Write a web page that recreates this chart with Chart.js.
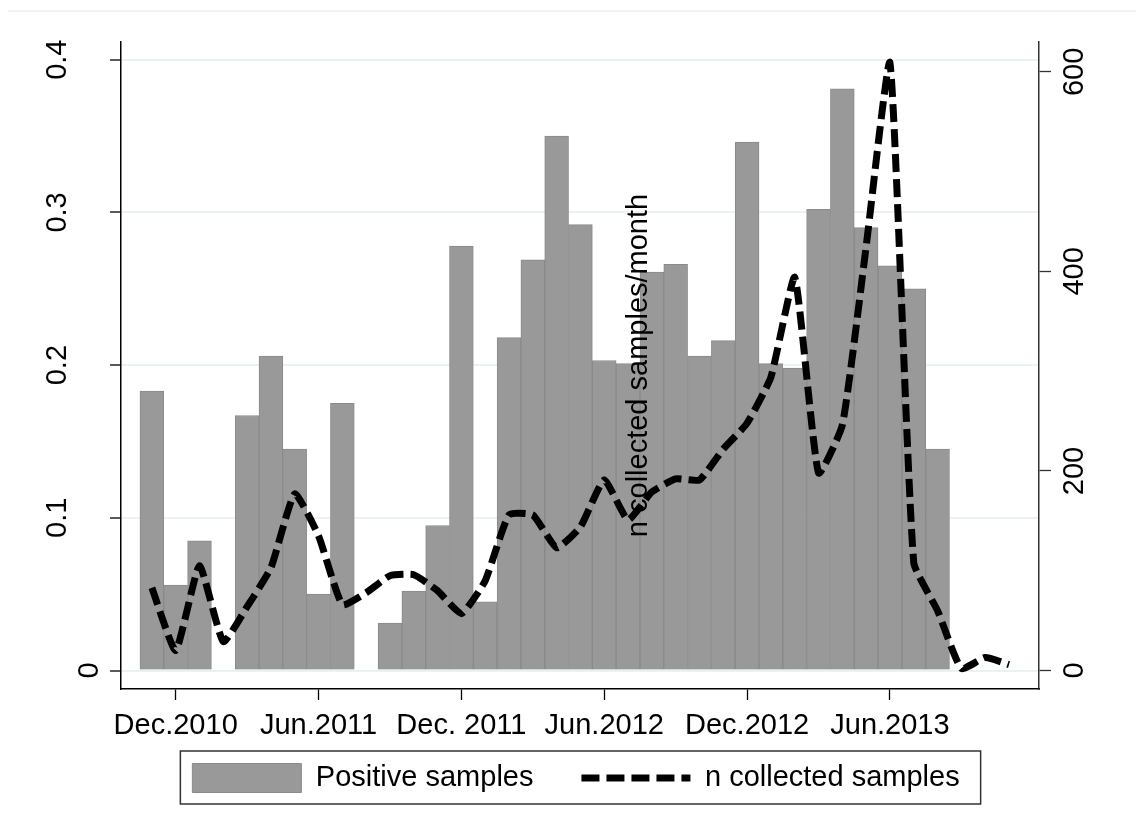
<!DOCTYPE html>
<html>
<head>
<meta charset="utf-8">
<script src="https://cdn.jsdelivr.net/npm/chart.js@4"></script>
<style>
  html, body { margin: 0; padding: 0; background: #fff; }
  canvas { display: block; }
</style>
</head>
<body>
<canvas id="chart" width="1136" height="837"></canvas>
<script>
// monthly data, Nov 2010 - Nov 2013
const months = [
  '2010-11', '2010-12', '2011-01', '2011-02', '2011-03', '2011-04', '2011-05', '2011-06',
  '2011-07', '2011-08', '2011-09', '2011-10', '2011-11', '2011-12', '2012-01', '2012-02',
  '2012-03', '2012-04', '2012-05', '2012-06', '2012-07', '2012-08', '2012-09', '2012-10',
  '2012-11', '2012-12', '2013-01', '2013-02', '2013-03', '2013-04', '2013-05', '2013-06',
  '2013-07', '2013-08', '2013-09', '2013-10', '2013-11'
];
const positiveRate = [
  0.183, 0.056, 0.085, null, 0.167, 0.206, 0.145, 0.050,
  0.175, null, 0.031, 0.052, 0.095, 0.278, 0.045, 0.218,
  0.269, 0.350, 0.292, 0.203, 0.201, 0.261, 0.266, 0.206,
  0.216, 0.346, 0.201, 0.198, 0.302, 0.381, 0.290, 0.265,
  0.250, 0.145, null, null, null
];
const nCollected = [
  83, 20, 105, 29, 64, 103, 177, 135,
  66, 78, 95, 96, 80, 57, 90, 156,
  156, 123, 144, 191, 151, 179, 192, 191,
  222, 248, 294, 394, 198, 246, 425, 609,
  108, 60, 2, 13, 6
];

const xTickMonths = ['2010-12', '2011-06', '2011-12', '2012-06', '2012-12', '2013-06'];
const xTickLabels = ['Dec.2010', 'Jun.2011', 'Dec. 2011', 'Jun.2012', 'Dec.2012', 'Jun.2013'];
const leftTicks = [0, 0.1, 0.2, 0.3, 0.4];
const leftTickLabels = ['0', '0.1', '0.2', '0.3', '0.4'];
const rightTicks = [0, 200, 400, 600];
const rightTickLabels = ['0', '200', '400', '600'];
const rightTitle = 'n collected samples/month';

const FONT = '"Liberation Sans", Arial, sans-serif';
Chart.defaults.font.family = FONT;
Chart.defaults.font.size = 29;
Chart.defaults.color = '#000';

const xTickPos = xTickMonths.map(m => months.indexOf(m));

// tick labels (rotated on the y axes), the stray y2 title and the legend frame
const stataBits = {
  id: 'stataBits',
  beforeDraw(chart) {
    const ctx = chart.ctx;
    ctx.save();
    ctx.strokeStyle = '#ececec';
    ctx.lineWidth = 1.5;
    ctx.beginPath();
    ctx.moveTo(8, 11);
    ctx.lineTo(chart.width, 11);
    ctx.stroke();
    ctx.restore();
  },
  afterDraw(chart) {
    const ctx = chart.ctx;
    const area = chart.chartArea;
    const x = chart.scales.x, y = chart.scales.y, y1 = chart.scales.y1;
    ctx.save();
    ctx.font = '29px ' + FONT;
    ctx.fillStyle = '#000';
    ctx.textAlign = 'center';
    ctx.textBaseline = 'alphabetic';

    xTickPos.forEach((v, i) => {
      ctx.fillText(xTickLabels[i], x.getPixelForValue(v), area.bottom + 44.5);
    });

    leftTicks.forEach((v, i) => {
      const gap = leftTickLabels[i].length > 1 ? 55 : 23;
      ctx.save();
      ctx.translate(area.left - gap, y.getPixelForValue(v));
      ctx.rotate(-Math.PI / 2);
      ctx.fillText(leftTickLabels[i], 0, 0);
      ctx.restore();
    });
    rightTicks.forEach((v, i) => {
      ctx.save();
      ctx.translate(area.right + 44, y1.getPixelForValue(v));
      ctx.rotate(-Math.PI / 2);
      ctx.fillText(rightTickLabels[i], 0, 0);
      ctx.restore();
    });

    // y2 title ends up inside the plot in the original
    ctx.save();
    ctx.translate(area.left + area.width * 0.562 + 10, (area.top + area.bottom) / 2);
    ctx.rotate(-Math.PI / 2);
    ctx.fillText(rightTitle, 0, 0);
    ctx.restore();

    // legend frame
    const boxes = chart.legend.legendHitBoxes;
    if (boxes && boxes.length) {
      const first = boxes[0], last = boxes[boxes.length - 1];
      const mid = first.top + first.height / 2;
      ctx.strokeStyle = '#333';
      ctx.lineWidth = 1.5;
      ctx.strokeRect(first.left - 12, mid - 27, last.left + last.width + 21 - (first.left - 12), 53);
    }
    ctx.restore();
  }
};

const ctx = document.getElementById('chart').getContext('2d');
new Chart(ctx, {
  type: 'bar',
  data: {
    datasets: [
      {
        label: 'Positive samples',
        data: positiveRate.map((v, i) => ({ x: i, y: v })),
        yAxisID: 'y',
        backgroundColor: '#999999',
        borderColor: '#8a8a8a',
        borderWidth: 1,
        barPercentage: 1,
        categoryPercentage: 1,
        order: 2
      },
      {
        type: 'line',
        label: 'n collected samples',
        data: nCollected.map((v, i) => ({ x: i, y: v })),
        yAxisID: 'y1',
        borderColor: '#000',
        backgroundColor: 'rgba(0,0,0,0)',
        borderWidth: 7,
        borderDash: [18, 7],
        tension: 0.15,
        pointRadius: 0,
        fill: false,
        order: 1
      }
    ]
  },
  options: {
    responsive: false,
    animation: false,
    layout: { padding: { left: 16, right: 0, top: 42, bottom: 34.5 } },
    plugins: {
      tooltip: { enabled: false },
      legend: {
        position: 'bottom',
        labels: {
          usePointStyle: true,
          pointStyleWidth: 109,
          boxHeight: 29,
          padding: 48,
          font: { size: 29 },
          generateLabels: chart => chart.data.datasets.map((ds, i) => ({
            text: ds.label,
            datasetIndex: i,
            hidden: false,
            fillStyle: ds.type === 'line' ? 'rgba(0,0,0,0)' : ds.backgroundColor,
            strokeStyle: ds.borderColor,
            lineWidth: ds.borderWidth,
            lineDash: ds.borderDash || [],
            pointStyle: ds.type === 'line' ? 'line' : 'rect'
          }))
        }
      }
    },
    scales: {
      x: {
        type: 'linear',
        min: -1.297,
        max: 37.26,
        offset: false,
        afterBuildTicks: s => { s.ticks = xTickPos.map(v => ({ value: v })); },
        afterFit: s => { s.height = 26.5; },
        ticks: { display: false },
        grid: { offset: false, drawOnChartArea: false, tickLength: 11, tickColor: '#000', tickWidth: 1.3 },
        border: { color: '#000', width: 1.5 }
      },
      y: {
        position: 'left',
        min: -0.0121,
        max: 0.4116,
        afterBuildTicks: s => { s.ticks = leftTicks.map(v => ({ value: v })); },
        afterFit: s => { s.width = 105; },
        ticks: { display: false },
        grid: { color: '#eaf2f3', lineWidth: 2, tickLength: 11, tickColor: '#000', tickWidth: 1.3 },
        border: { color: '#000', width: 1.5 }
      },
      y1: {
        position: 'right',
        min: -18.5,
        max: 629.9,
        afterBuildTicks: s => { s.ticks = rightTicks.map(v => ({ value: v })); },
        afterFit: s => { s.width = 97; },
        ticks: { display: false },
        grid: { drawOnChartArea: false, tickLength: 12, tickColor: '#333', tickWidth: 1.3 },
        border: { color: '#333', width: 1.5 }
      }
    }
  },
  plugins: [stataBits]
});
</script>
</body>
</html>
